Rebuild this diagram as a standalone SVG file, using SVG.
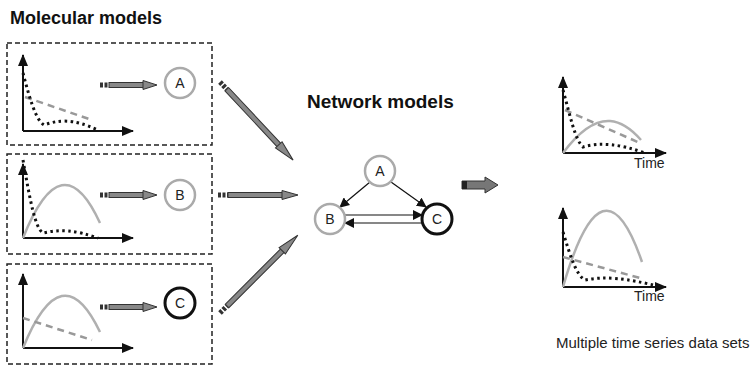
<svg xmlns="http://www.w3.org/2000/svg" width="756" height="369" viewBox="0 0 756 369">
<style>
.title{font-family:"Liberation Sans",Arial,sans-serif;font-weight:bold;font-size:18px;fill:#111}
.lbl{font-family:"Liberation Sans",Arial,sans-serif;font-size:14px;fill:#222}
.small{font-family:"Liberation Sans",Arial,sans-serif;font-size:14px;fill:#222}
.cap{font-family:"Liberation Sans",Arial,sans-serif;font-size:15px;fill:#222}
.box{fill:none;stroke:#222;stroke-width:1.5;stroke-dasharray:5,3}
.axis{fill:none;stroke:#111;stroke-width:2}
.arch{fill:none;stroke:#b0b0b0;stroke-width:2.5}
.dash{fill:none;stroke:#999;stroke-width:2.5;stroke-dasharray:7,5}
.dot{fill:none;stroke:#111;stroke-width:3;stroke-dasharray:2.5,3.5}
.ng{fill:#fff;stroke:#aaa;stroke-width:2.5}
.nb{fill:#fff;stroke:#111;stroke-width:3}
.edge{fill:none;stroke:#111;stroke-width:1.2}
.tail{stroke:#333;stroke-width:5;stroke-dasharray:3,1.5}
.shaft{fill:#888;stroke:#333;stroke-width:1}
</style>
<defs>
<marker id="ah" markerWidth="10" markerHeight="10" refX="9" refY="5" orient="auto" markerUnits="userSpaceOnUse">
<path d="M0,0 L10,5 L0,10 Z" fill="#111"/>
</marker>
<marker id="axh" markerWidth="12" markerHeight="10" refX="11" refY="5" orient="auto" markerUnits="userSpaceOnUse">
<path d="M0,0 L12,5 L0,10 Z" fill="#111"/>
</marker>
</defs>

<text class="title" x="10" y="24">Molecular models</text>
<text class="title" x="307" y="108" style="font-size:19px">Network models</text>

<g id="box1">
<rect class="box" x="7" y="43" width="205" height="102"/>
<path class="axis" d="M23,131 V55" marker-end="url(#axh)"/>
<path class="axis" d="M23,131 H133" marker-end="url(#axh)"/>
<path class="dash" d="M25,97 L92,120"/>
<path class="dot" d="M23,73 C30,100 36,120 44,125 C58,120 72,118 98,130"/>
</g>
<g id="box2">
<rect class="box" x="7" y="154" width="205" height="100"/>
<path class="axis" d="M23,238 V164" marker-end="url(#axh)"/>
<path class="axis" d="M23,238 H133" marker-end="url(#axh)"/>
<path class="arch" d="M23,238 Q62,140 100,223"/>
<path class="dot" d="M23,160 C30,200 35,228 43,233 C60,229 75,230 98,238"/>
</g>
<g id="box3">
<rect class="box" x="7" y="264" width="205" height="100"/>
<path class="axis" d="M23,348 V274" marker-end="url(#axh)"/>
<path class="axis" d="M23,348 H133" marker-end="url(#axh)"/>
<path class="arch" d="M23,348 Q62,252 100,332"/>
<path class="dash" d="M23,318 L92,340"/>
</g>

<g id="nodeA1"><circle class="ng" cx="180" cy="83" r="15"/><text class="lbl" x="180" y="88" text-anchor="middle">A</text></g>
<g id="nodeB1"><circle class="ng" cx="180" cy="195" r="15"/><text class="lbl" x="180" y="200" text-anchor="middle">B</text></g>
<g id="nodeC1"><circle class="nb" cx="180" cy="303" r="15"/><text class="lbl" x="180" y="308" text-anchor="middle">C</text></g>

<g id="arrows">
<g transform="translate(100,85)"><line class="tail" x1="0" y1="0" x2="9" y2="0"/><rect class="shaft" x="9" y="-2.5" width="36" height="5"/><path class="shaft" d="M43,-4.5 L57,0 L43,4.5 Z"/></g>
<g transform="translate(100,195)"><line class="tail" x1="0" y1="0" x2="9" y2="0"/><rect class="shaft" x="9" y="-2.5" width="36" height="5"/><path class="shaft" d="M43,-4.5 L57,0 L43,4.5 Z"/></g>
<g transform="translate(100,307)"><line class="tail" x1="0" y1="0" x2="9" y2="0"/><rect class="shaft" x="9" y="-2.5" width="36" height="5"/><path class="shaft" d="M43,-4.5 L57,0 L43,4.5 Z"/></g>
<g transform="translate(220,82) rotate(46.9)"><line class="tail" x1="0" y1="0" x2="10" y2="0"/><rect class="shaft" x="10" y="-2.5" width="80" height="5"/><path class="shaft" d="M86,-4.5 L107,0 L86,4.5 Z"/></g>
<g transform="translate(218,195)"><line class="tail" x1="0" y1="0" x2="10" y2="0"/><rect class="shaft" x="10" y="-2.5" width="58" height="5"/><path class="shaft" d="M64,-4.5 L80,0 L64,4.5 Z"/></g>
<g transform="translate(220,313) rotate(-45)"><line class="tail" x1="0" y1="0" x2="10" y2="0"/><rect class="shaft" x="10" y="-2.5" width="82" height="5"/><path class="shaft" d="M88,-4.5 L110,0 L88,4.5 Z"/></g>
<path d="M462,181 H485 V177 L498,185 L485,193 V189 H462 Z" fill="#777" stroke="#333" stroke-width="1"/>
<rect x="462" y="181" width="5" height="8" fill="#222"/>
<line class="edge" x1="370" y1="182" x2="340" y2="207" marker-end="url(#ah)"/>
<line class="edge" x1="391" y1="182" x2="426" y2="207" marker-end="url(#ah)"/>
<line class="edge" x1="345" y1="215" x2="422" y2="215" marker-end="url(#ah)"/>
<line class="edge" x1="422" y1="223" x2="345" y2="223" marker-end="url(#ah)"/>
</g>

<g id="netA"><circle class="ng" cx="380" cy="171" r="15"/><text class="lbl" x="380" y="176" text-anchor="middle">A</text></g>
<g id="netB"><circle class="ng" cx="330" cy="219" r="15"/><text class="lbl" x="330" y="224" text-anchor="middle">B</text></g>
<g id="netC"><circle class="nb" cx="437" cy="219" r="15"/><text class="lbl" x="437" y="224" text-anchor="middle">C</text></g>

<g id="chart1">
<path class="axis" d="M563,153 V77" marker-end="url(#axh)"/>
<path class="axis" d="M563,153 H666" marker-end="url(#axh)"/>
<path class="arch" d="M563,153 C580,130 595,120 610,121 C623,122 634,132 641,140"/>
<path class="dash" d="M565,110 L640,143"/>
<path class="dot" d="M563,90 C570,115 575,140 583,147 C600,142 620,144 645,153"/>
<text class="small" x="634" y="168">Time</text>
</g>
<g id="chart2">
<path class="axis" d="M563,287 V208" marker-end="url(#axh)"/>
<path class="axis" d="M563,287 H666" marker-end="url(#axh)"/>
<path class="arch" d="M563,287 Q603,148 642,262"/>
<path class="dash" d="M563,257 L640,278"/>
<path class="dot" d="M563,232 C570,255 576,275 585,280 C605,276 625,278 662,287"/>
<text class="small" x="634" y="301">Time</text>
</g>
<text class="cap" x="556" y="348">Multiple time series data sets</text>
</svg>
